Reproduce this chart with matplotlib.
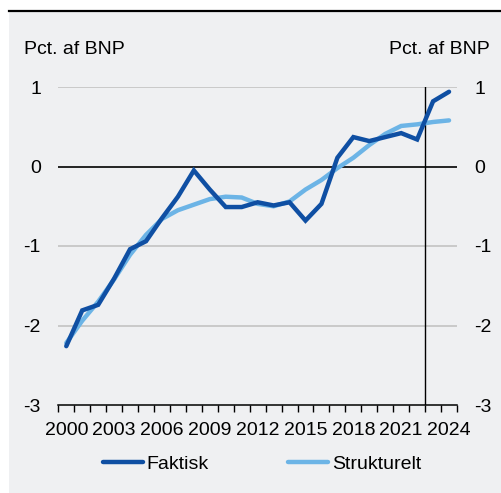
import numpy as np
import matplotlib

matplotlib.use("Agg")
import matplotlib.pyplot as plt
from matplotlib.patches import Rectangle
from matplotlib.lines import Line2D

plt.rcParams["font.family"] = ["Liberation Sans", "DejaVu Sans"]

YEARS = list(range(2000, 2025))

FAKTISK = [-2.26, -1.81, -1.74, -1.41, -1.04, -0.94, -0.65, -0.38, -0.05, -0.29,
           -0.51, -0.51, -0.45, -0.49, -0.45, -0.68, -0.47, 0.11, 0.37, 0.32,
           0.37, 0.42, 0.34, 0.82, 0.94]

STRUKTURELT = [-2.22, -1.94, -1.70, -1.42, -1.11, -0.86, -0.66, -0.55, -0.48, -0.41,
               -0.38, -0.39, -0.47, -0.50, -0.44, -0.29, -0.17, -0.02, 0.11, 0.27,
               0.41, 0.51, 0.53, 0.56, 0.58]

Y_TICKS = [-3, -2, -1, 0, 1]
X_LABEL_YEARS = [2000, 2003, 2006, 2009, 2012, 2015, 2018, 2021, 2024]
UNIT = "Pct. af BNP"

DARK = "#0f4fa3"
LIGHT = "#6cb4e6"
BG = "#eff0f2"
FS = 14

W, H = 501, 493
fig = plt.figure(figsize=(W / 100, H / 100), dpi=100)
fig.patch.set_facecolor("white")

# grey panel with a black rule along the top
fig.patches.append(Rectangle((9 / W, 0), 1 - 9 / W, 1 - 12 / H,
                             transform=fig.transFigure, facecolor=BG,
                             edgecolor="none", zorder=-5))
fig.lines.append(Line2D([9 / W, 1], [1 - 11 / H, 1 - 11 / H],
                        transform=fig.transFigure, color="black", lw=1.6,
                        zorder=-4))

left, right = 58.3 / W, 457 / W
top, bottom = 1 - 87 / H, 1 - 405 / H
ax = fig.add_axes([left, bottom, right - left, top - bottom])
ax.set_facecolor("none")

x = np.arange(len(YEARS))
ax.plot(x, FAKTISK, color=DARK, lw=3.2, solid_capstyle="round",
        solid_joinstyle="miter", label="Faktisk", zorder=4)
ax.plot(x, STRUKTURELT, color=LIGHT, lw=3.2, solid_capstyle="round",
        solid_joinstyle="miter", label="Strukturelt", zorder=3)

ax.set_xlim(-0.5, len(YEARS) - 0.5)
ax.set_ylim(-3, 1)

for v in Y_TICKS[1:]:
    ax.axhline(v, color="black" if v == 0 else "#c3c3c3", lw=1.2, zorder=1)

# divider between 2022 and 2023
ax.axvline(YEARS.index(2022) + 0.5, color="black", lw=1, zorder=2)

for s in ["top", "left", "right"]:
    ax.spines[s].set_visible(False)
ax.spines["bottom"].set_linewidth(1.1)

ax.set_xticks(np.arange(-0.5, len(YEARS)), labels=[])
ax.tick_params(axis="x", which="major", direction="out", length=5, width=1)
ax.set_xticks([YEARS.index(y) for y in X_LABEL_YEARS], minor=True)
ax.set_xticklabels([str(y) for y in X_LABEL_YEARS], minor=True, fontsize=FS)
ax.tick_params(axis="x", which="minor", length=0, pad=12)

ax.set_yticks(Y_TICKS)
ax.set_yticklabels([str(v) for v in Y_TICKS], fontsize=FS)
ax.tick_params(axis="y", length=0, pad=12.5, labelleft=True, labelright=True)

fig.text(24 / W, 1 - 50 / H, UNIT, fontsize=FS, ha="left", va="center")
fig.text(490 / W, 1 - 50 / H, UNIT, fontsize=FS, ha="right", va="center")

fig.legend(loc="center", bbox_to_anchor=(262 / W, 1 - 464 / H), ncol=2,
           frameon=False, fontsize=FS, handlelength=2.05, handletextpad=0.2,
           columnspacing=4.1)

fig.savefig("out.png", dpi=100, facecolor="white")
